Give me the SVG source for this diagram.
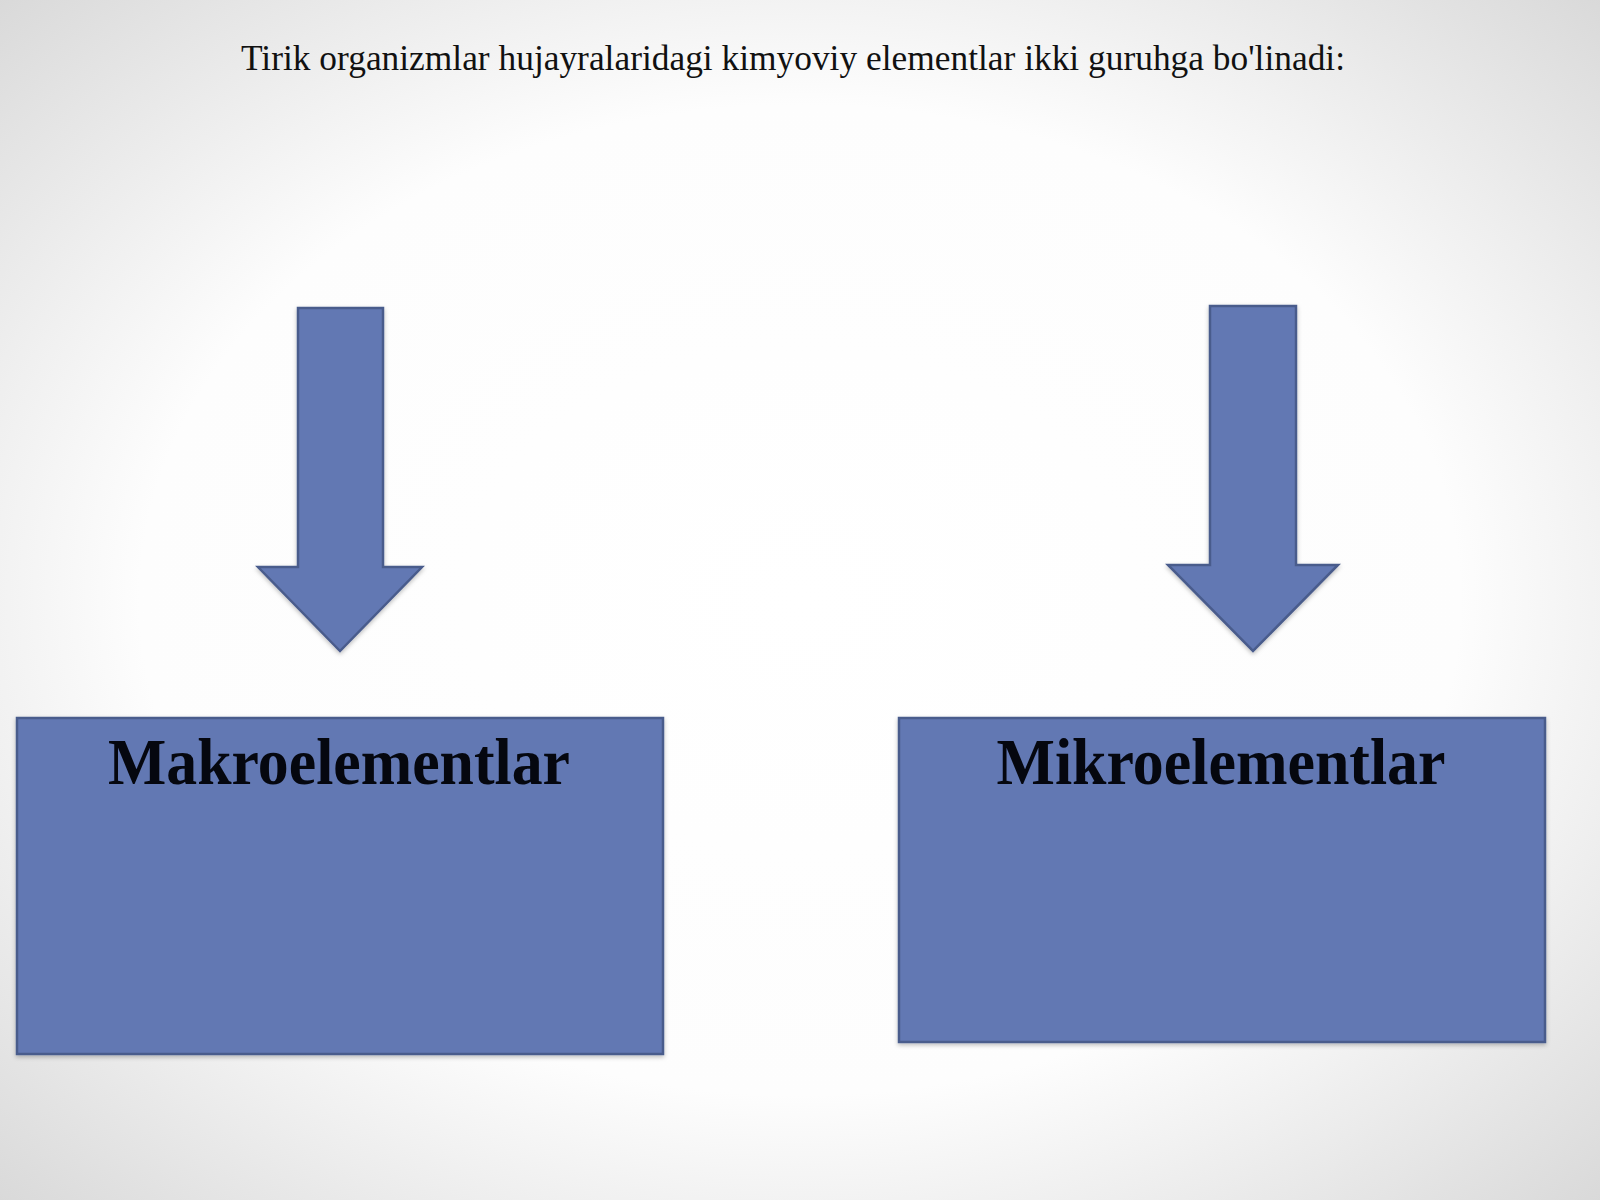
<svg xmlns="http://www.w3.org/2000/svg" width="1600" height="1200" viewBox="0 0 1600 1200">
  <defs>
    <radialGradient id="bg" cx="50%" cy="50%" r="75%">
      <stop offset="0" stop-color="#ffffff"/>
      <stop offset="0.55" stop-color="#fdfdfd"/>
      <stop offset="1" stop-color="#d4d4d4"/>
    </radialGradient>
    <filter id="sh" x="-10%" y="-10%" width="120%" height="120%">
      <feDropShadow dx="0" dy="2" stdDeviation="2" flood-color="#000" flood-opacity="0.25"/>
    </filter>
  </defs>
  <style>
    .shape { fill: #6278b3; stroke: #4a5c8c; stroke-width: 2.5; filter: url(#sh); }
    .title { font-family: "Liberation Serif", "Times New Roman", serif; font-size: 36px; fill: #111; }
    .label { font-family: "Liberation Serif", "Times New Roman", serif; font-size: 66px; font-weight: bold; fill: #05070f; }
  </style>
  <rect x="0" y="0" width="1600" height="1200" fill="url(#bg)"/>
  <text class="title" x="793" y="70" text-anchor="middle" textLength="1104" lengthAdjust="spacingAndGlyphs">Tirik organizmlar hujayralaridagi kimyoviy elementlar ikki guruhga bo'linadi:</text>
  <g id="connectors">
    <polygon id="arrow-left" class="shape" points="298,308 383,308 383,567 422,567 340,651 258,567 298,567"/>
    <polygon id="arrow-right" class="shape" points="1210,306 1296,306 1296,565 1338,565 1253,651 1168,565 1210,565"/>
  </g>
  <g id="node-makro">
    <rect class="shape" x="17" y="718" width="646" height="336"/>
    <text class="label" x="339" y="784" text-anchor="middle" textLength="462" lengthAdjust="spacingAndGlyphs">Makroelementlar</text>
  </g>
  <g id="node-mikro">
    <rect class="shape" x="899" y="718" width="646" height="324"/>
    <text class="label" x="1221" y="784" text-anchor="middle" textLength="449" lengthAdjust="spacingAndGlyphs">Mikroelementlar</text>
  </g>
</svg>
